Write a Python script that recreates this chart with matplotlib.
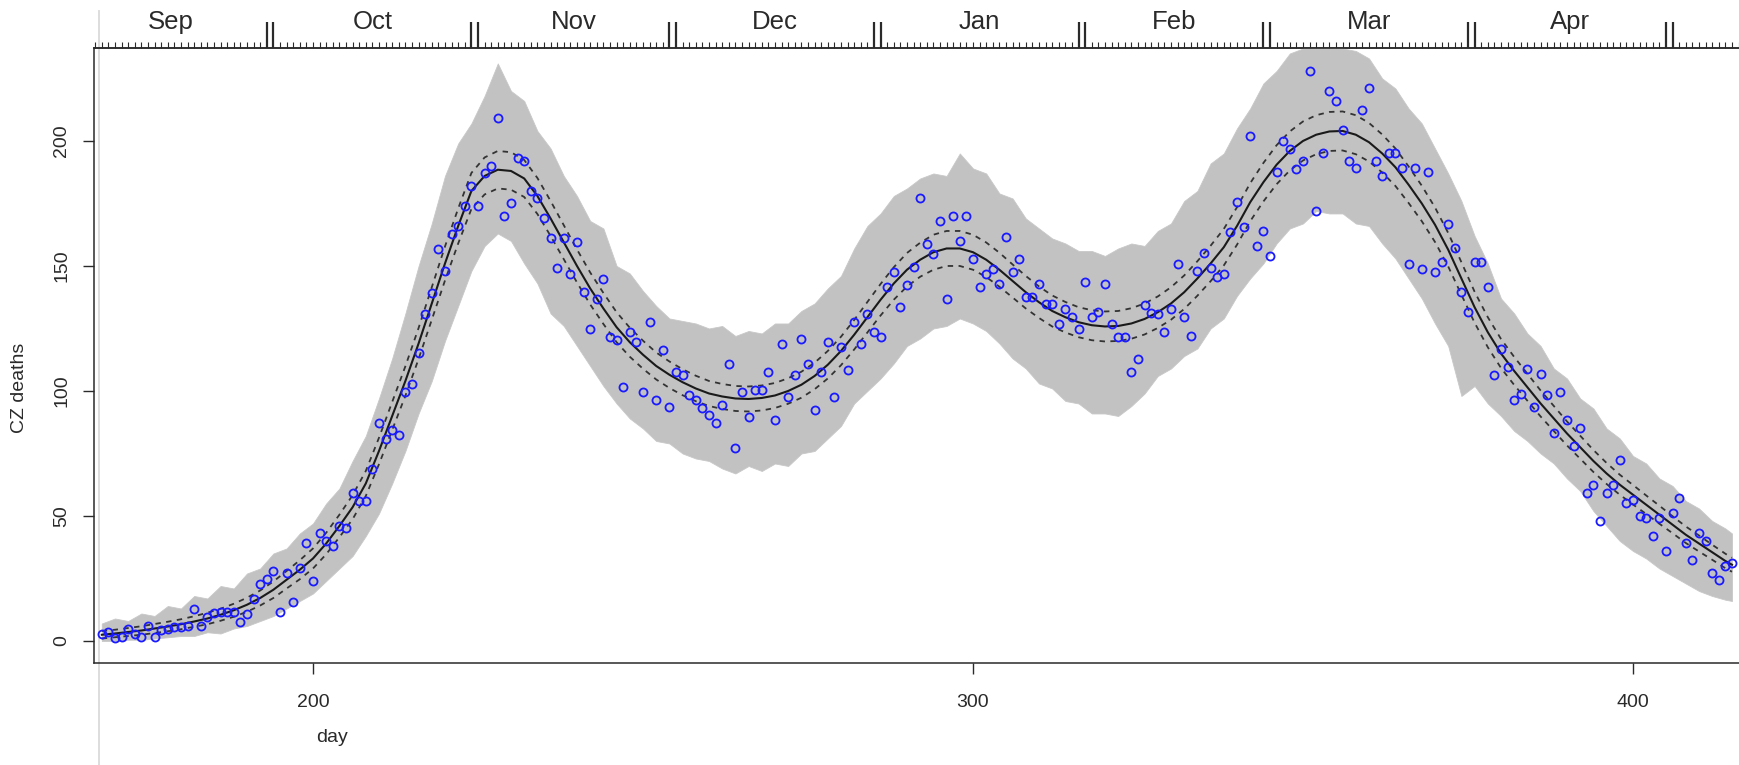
import matplotlib.pyplot as plt
from matplotlib.ticker import FixedLocator
from matplotlib.transforms import blended_transform_factory

plt.rcParams['font.family'] = ['Liberation Sans', 'DejaVu Sans']

# 1. Observed daily deaths (blue circles), one value per day from day 168
obs_day = list(range(168, 416))
obs = [
    2.7, 3.7, 1, 1.7, 4.6, 2.7, 1.7, 6, 1.7, 4.4,
    4.6, 5.6, 5.7, 6, 12.8, 6, 9.7, 11, 11.7, 11.7,
    11.4, 7.7, 10.8, 16.7, 22.8, 24.9, 28, 11.7, 27, 15.7,
    29.3, 39, 24, 43, 40, 38, 46, 45, 59.3, 56,
    56, 68.7, 87.3, 80.7, 84.4, 82.4, 99.7, 102.9, 115.3, 130.7,
    139.2, 156.7, 148, 162.8, 166, 174, 182, 174, 187.2, 190,
    209.3, 170, 175, 193, 192.1, 180, 177, 169, 161, 149,
    161, 146.8, 159.7, 139.7, 124.7, 136.8, 144.8, 121.7, 120.4, 101.5,
    123.5, 119.5, 99.5, 127.5, 96.4, 116.4, 93.5, 107.5, 106.4, 98.4,
    96.4, 93, 90.4, 87.3, 94.4, 110.7, 77.3, 99.5, 89.5, 100.4,
    100.4, 107.5, 88.4, 118.6, 97.5, 106.4, 120.7, 110.7, 92.4, 107.5,
    119.5, 97.5, 117.7, 108.4, 127.5, 118.7, 130.8, 123.7, 121.5, 141.7,
    147.7, 133.7, 142.4, 149.7, 177, 158.8, 154.7, 168, 136.7, 170,
    160, 170, 152.8, 141.7, 146.8, 148.7, 142.8, 161.7, 147.7, 152.8,
    137.7, 137.7, 142.7, 134.8, 134.8, 126.8, 132.7, 129.7, 124.7, 143.7,
    129.7, 131.7, 142.7, 126.8, 121.7, 121.7, 107.7, 112.7, 134.4, 131.3,
    130.6, 123.5, 132.7, 150.8, 129.7, 122, 147.9, 155, 149, 145.7,
    146.6, 163.7, 175.7, 165.7, 202, 157.9, 163.9, 153.9, 187.6, 200,
    196.7, 188.9, 192, 228, 172, 195, 220, 216.1, 204.4, 192.1,
    189, 212.4, 221.3, 192.1, 186.1, 195, 195, 189, 150.8, 189,
    148.8, 187.6, 147.7, 151.7, 166.7, 157, 139.7, 131.7, 151.7, 151.7,
    141.7, 106.4, 116.7, 109.5, 96.4, 98.8, 108.7, 93.5, 106.7, 98.4,
    83.3, 99.5, 88.4, 78.1, 85.3, 59.1, 62.4, 48.1, 59.1, 62.4,
    72.4, 55.1, 56.4, 50.1, 49.1, 42, 49.1, 36.1, 51, 57.3,
    39, 32.4, 43.1, 40.1, 27.1, 24.4, 30, 31.3,
]

# 2. Fitted curve, half width of the dashed band, envelope of the simulations
fit_day = list(range(168, 415, 2)) + [415]
fit = [
    2.5, 3.0, 3.6, 4.2, 5.0, 5.8, 6.7, 7.8, 9.0, 10.5,
    12.3, 14.5, 17.2, 20.5, 24.5, 28.5, 33.0, 39.0, 46.0, 53.5,
    63.0, 76.0, 90.0, 104.0, 119.0, 135.0, 151.0, 166.0, 180.0, 186.0,
    188.5, 188.0, 185.0, 178.0, 169.0, 159.5, 150.0, 141.0, 133.0, 125.5,
    119.5, 114.5, 110.0, 106.5, 103.5, 101.0, 99.0, 97.8, 97.0, 96.8,
    97.2, 98.2, 100.0, 102.5, 106.0, 110.5, 116.0, 122.5, 129.5, 136.5,
    143.0, 148.5, 152.5, 155.5, 157.0, 157.0, 155.5, 152.5, 148.5, 144.0,
    139.5, 135.5, 132.0, 129.5, 127.5, 126.3, 125.8, 126.0, 127.0, 128.8,
    131.5, 135.0, 139.5, 145.0, 151.0, 157.5, 166.0, 175.5, 183.5, 190.5,
    196.0, 200.0, 202.5, 203.8, 204.0, 202.5, 199.5, 195.0, 189.5, 182.5,
    175.0, 166.5, 156.5, 145.0, 133.5, 123.5, 115.0, 108.0, 101.5, 95.0,
    89.0, 83.0, 77.5, 72.0, 67.0, 62.5, 58.5, 54.5, 50.5, 46.5,
    42.5, 39.0, 35.5, 32.0, 30.5,
]
band_hw = [
    1.5, 1.5, 1.6, 1.7, 1.8, 1.9, 2.0, 2.1, 2.3, 2.4,
    2.6, 2.8, 3.0, 3.3, 3.5, 3.8, 4.0, 4.3, 4.5, 4.8,
    5.0, 5.3, 5.6, 5.9, 6.2, 6.5, 6.8, 7.0, 7.2, 7.4,
    7.5, 7.5, 7.4, 7.2, 7.0, 6.8, 6.6, 6.4, 6.2, 6.0,
    5.8, 5.6, 5.4, 5.3, 5.2, 5.1, 5.0, 5.0, 5.0, 5.0,
    5.0, 5.0, 5.1, 5.2, 5.3, 5.5, 5.7, 5.9, 6.1, 6.3,
    6.5, 6.7, 6.8, 7.0, 7.0, 7.0, 7.0, 6.9, 6.8, 6.6,
    6.5, 6.3, 6.2, 6.1, 6.0, 6.0, 6.0, 6.0, 6.1, 6.2,
    6.3, 6.5, 6.7, 6.9, 7.1, 7.3, 7.5, 7.6, 7.7, 7.8,
    7.8, 7.8, 7.8, 7.8, 7.8, 7.8, 7.7, 7.6, 7.5, 7.3,
    7.1, 6.9, 6.7, 6.5, 6.2, 6.0, 5.8, 5.6, 5.4, 5.2,
    5.0, 4.8, 4.6, 4.4, 4.2, 4.0, 3.9, 3.7, 3.6, 3.4,
    3.3, 3.2, 3.0, 2.9, 2.8,
]
sim_hi = [
    7, 9, 8, 11, 10, 14, 13, 18, 17, 22,
    21, 27, 29, 35, 37, 43, 47, 55, 61, 72,
    82, 97, 113, 131, 150, 167, 186, 199, 207, 218,
    231, 220, 216, 204, 197, 186, 178, 168, 165, 150,
    147, 140, 134, 129, 128, 127, 125, 126, 122, 124,
    123, 127, 127, 132, 135, 141, 146, 157, 166, 171,
    178, 181, 185, 187, 186, 195, 189, 187, 179, 177,
    169, 165, 161, 159, 156, 156, 154, 157, 159, 158,
    164, 167, 176, 180, 191, 195, 205, 213, 223, 228,
    235, 237, 237, 237, 237, 236, 233, 225, 221, 213,
    207, 197, 187, 176, 162, 151, 137, 131, 123, 118,
    109, 105, 97, 93, 85, 81, 74, 71, 65, 62,
    56, 53, 48, 45, 43,
]
sim_lo = [
    0, 0, 0.5, 0.5, 1, 1.5, 2, 2, 3.5, 3,
    5, 6, 8, 10, 13, 16, 19, 24, 29, 34,
    42, 51, 63, 76, 91, 104, 120, 134, 148, 158,
    163, 160, 151, 143, 131, 126, 118, 110, 102, 95,
    89, 85, 80, 79, 75, 73, 72, 69, 67, 70,
    68, 71, 70, 75, 76, 81, 86, 95, 100, 105,
    111, 118, 121, 125, 126, 129, 127, 124, 119, 113,
    109, 103, 101, 96, 95, 91, 91, 90, 94, 99,
    106, 109, 114, 117, 125, 129, 138, 145, 151, 159,
    165, 167, 172, 171, 171, 167, 166, 159, 153, 145,
    137, 127, 118, 98, 102, 95, 90, 84, 80, 75,
    71, 65, 60, 52, 46, 40, 36, 33, 29, 26,
    23, 20, 18, 16.5, 16,
]

# 3. Month axis on top: first/last day of each month and label positions
month_edges = [193, 194, 224, 225, 254, 255, 285, 286, 316, 317,
               344, 345, 375, 376, 405, 406]
month_names = ['Sep', 'Oct', 'Nov', 'Dec', 'Jan', 'Feb', 'Mar', 'Apr']
month_mid = [178.5, 209, 239.5, 270, 301, 330.5, 360, 390.5]

# 4. Figure
W, H = 1739, 765
fig = plt.figure(figsize=(W / 100, H / 100), dpi=100)
ax = fig.add_axes([94 / W, 1 - 663 / H, 1 - 94 / W, (663 - 47.7) / H])
ax.set_xlim(166.82, 416.06)
ax.set_ylim(-8.8, 237.3)

ink = '#2a2a2a'
ax.fill_between(fit_day, sim_lo, sim_hi, color='#c2c2c2', lw=0.6,
                edgecolor='#c8c8c8')
ax.plot(fit_day, fit, color='#1a1a1a', lw=1.5)
upper = [f + h for f, h in zip(fit, band_hw)]
lower = [f - h for f, h in zip(fit, band_hw)]
ax.plot(fit_day, upper, color='#333333', lw=1.3, dashes=(3, 3))
ax.plot(fit_day, lower, color='#333333', lw=1.3, dashes=(3, 3))
ax.plot(obs_day, obs, 'o', mfc='none', mec='#1a1aff', ms=5.8, mew=1.3)

# faint vertical line at the start of the series
ax.axvline(167.6, ymin=-0.166, ymax=1.06, color='#dadada', lw=1.3,
           clip_on=False, zorder=0)

# 5. Axes styling (R-like)
ax.spines['right'].set_visible(False)
for s in ['left', 'bottom', 'top']:
    ax.spines[s].set_color(ink)
    ax.spines[s].set_linewidth(1.1)
ax.set_xticks([200, 300, 400])
ax.set_yticks([0, 50, 100, 150, 200])
ax.tick_params(axis='both', length=8, width=1.0, color=ink,
               labelsize=14, labelcolor=ink)
ax.tick_params(axis='x', pad=14)
ax.tick_params(axis='y', pad=9)
for lab in ax.get_yticklabels():
    lab.set_rotation(90)
    lab.set_va('center')

top = ax.secondary_xaxis('top')
top.set_xticks(month_edges)
top.xaxis.set_minor_locator(FixedLocator(list(range(167, 417))))
top.tick_params(which='major', length=19, width=1.6, color=ink,
                labeltop=False)
top.tick_params(which='minor', length=4.3, width=0.8, color=ink)
top.spines['top'].set_color(ink)
top.spines['top'].set_linewidth(1.1)

trans = blended_transform_factory(ax.transData, fig.transFigure)
for name, mid in zip(month_names, month_mid):
    ax.text(mid, 1 - 22 / H, name, transform=trans, ha='center',
            va='center', fontsize=18.5, color=ink)

fig.text(20 / W, 1 - 388 / H, 'CZ deaths', rotation=90, ha='center',
         va='center', fontsize=14, color=ink)
fig.text(332 / W, 1 - 737 / H, 'day', ha='center', va='center',
         fontsize=14, color=ink)

fig.savefig('out.png', dpi=100)
